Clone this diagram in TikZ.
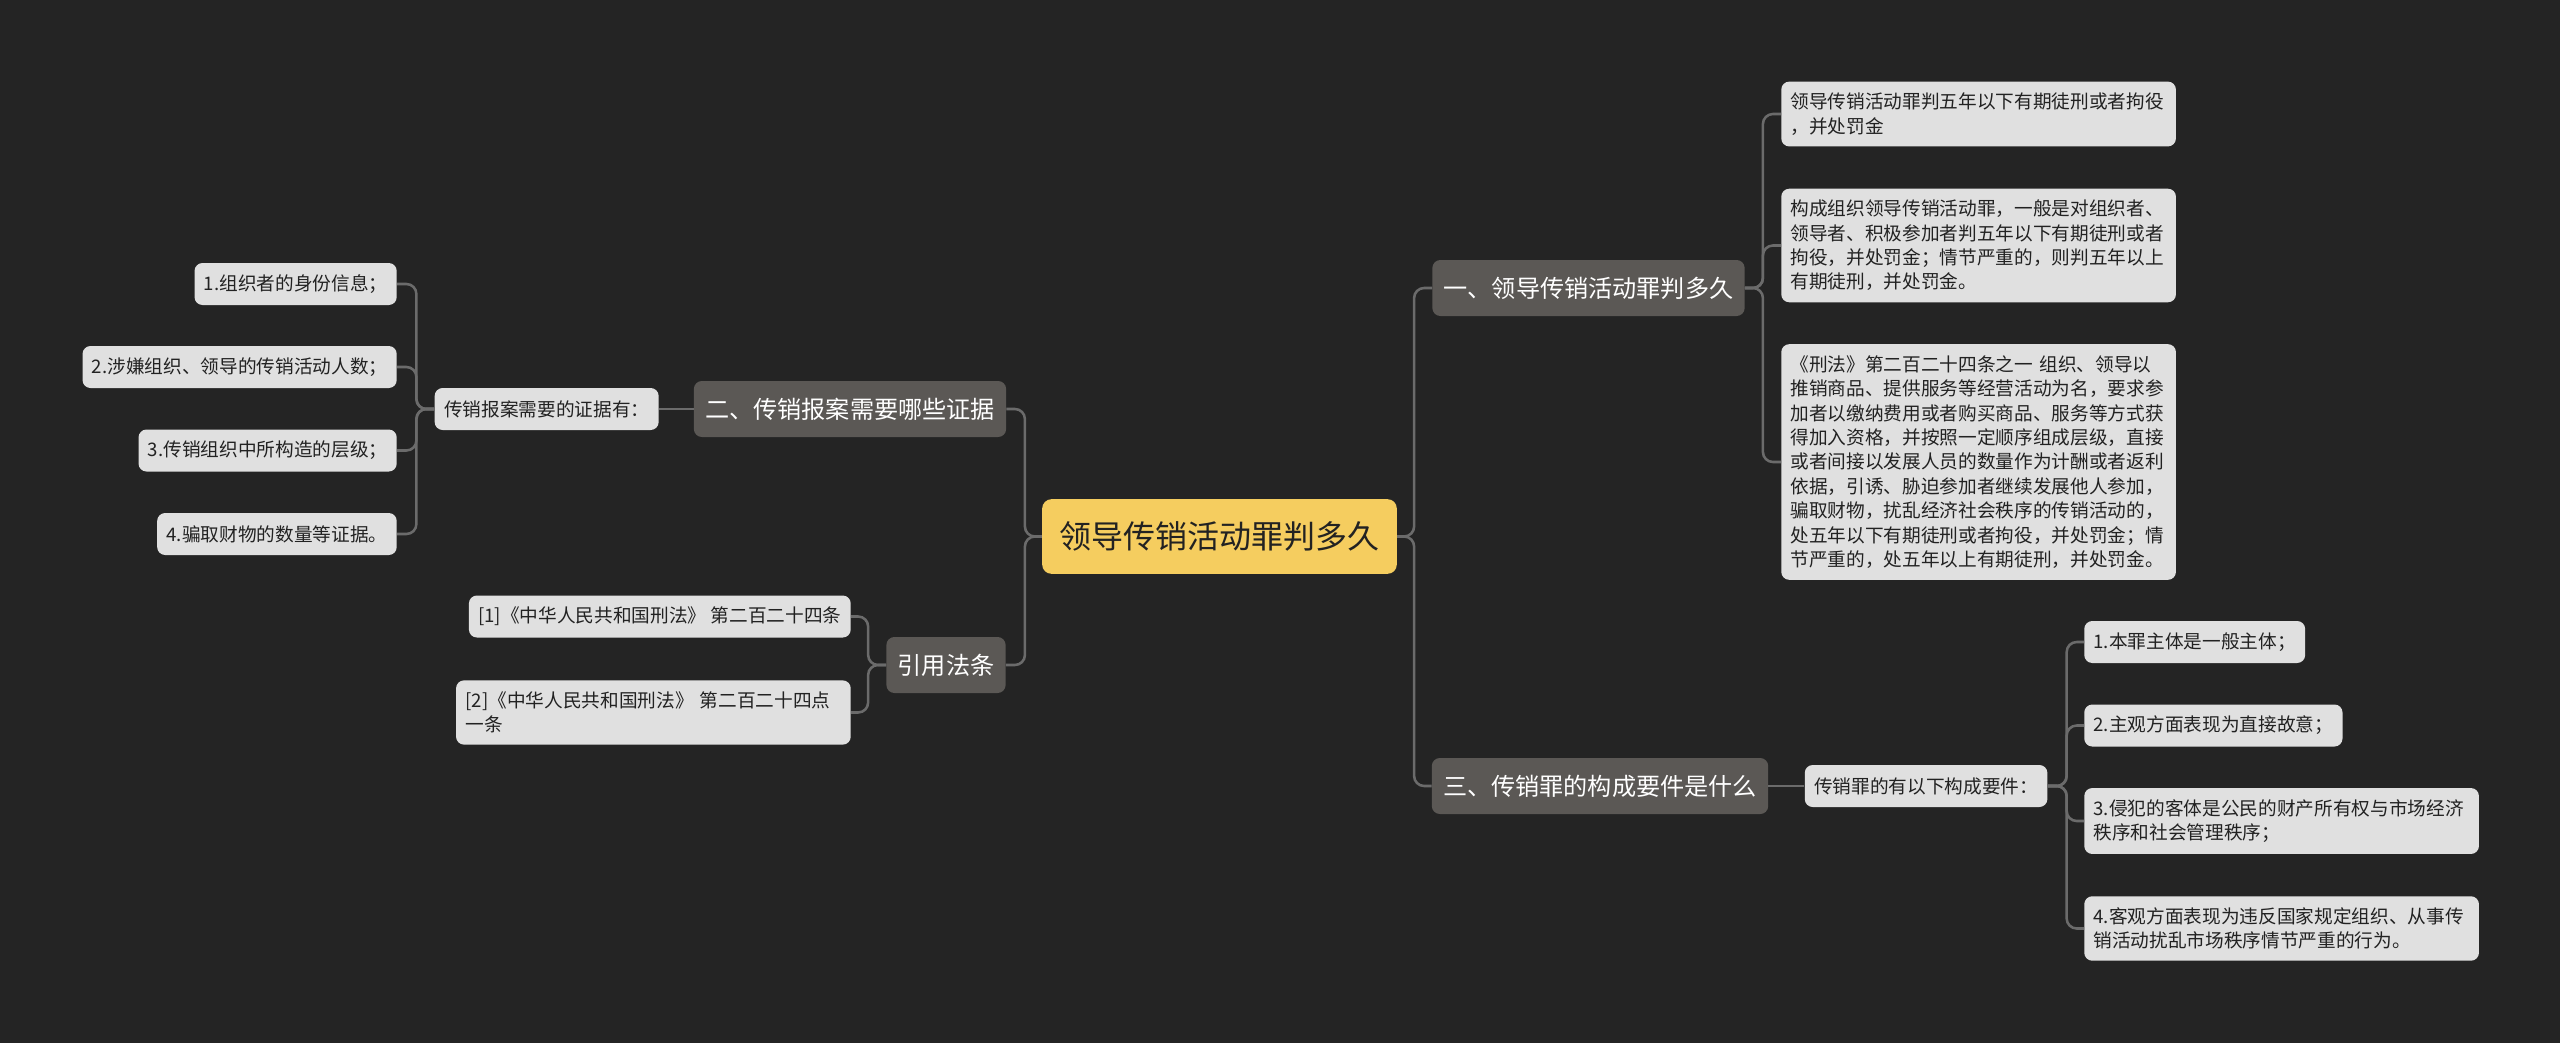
\documentclass[tikz,border=0pt]{standalone}
\usepackage{fontspec}
\setmainfont{Noto Sans CJK SC}
\usetikzlibrary{positioning}

\definecolor{bgdark}{HTML}{242424}
\definecolor{rootfill}{HTML}{F5CD5F}
\definecolor{topicfill}{HTML}{5B5855}
\definecolor{leaffill}{HTML}{E0E0E0}
\definecolor{linkgray}{HTML}{6B6B6B}
\definecolor{darktext}{HTML}{222222}

\begin{document}
\begin{tikzpicture}[x=0.75pt, y=-0.75pt]
        \tikzstyle{root} = [fill=rootfill, rounded corners=7pt, text=darktext, font=\fontsize{24}{28}\selectfont, inner xsep=13pt, minimum height=56pt]
        \tikzstyle{topic} = [fill=topicfill, rounded corners=6pt, text=white, font=\fontsize{18.1}{22}\selectfont, inner xsep=8.5pt, minimum height=42pt]
        \tikzstyle{leaf} = [fill=leaffill, rounded corners=6pt, text=darktext, font=\fontsize{14}{18.3}\selectfont, inner xsep=7pt, inner ysep=8.5pt, minimum height=31.5pt, align=left]
        \tikzstyle{longleaf} = [leaf, text width=282pt]
        \tikzstyle{link} = [draw=linkgray, line width=1.9pt, rounded corners=7.5pt]

        \fill[bgdark] (0,0) rectangle (2560,1043);
        \useasboundingbox (0,0) rectangle (2560,1043);

        % centre and main topics
        \node [root] (root) at (1219.5,536.5) {领导传销活动罪判多久};
        \node [topic] (t1) at (1588.5,288) {一、领导传销活动罪判多久};
        \node [topic] (t2) at (850,409) {二、传销报案需要哪些证据};
        \node [topic] (t3) at (1600,786) {三、传销罪的构成要件是什么};
        \node [topic] (t4) at (946,665) {引用法条};

        % topic one
        \node [longleaf, anchor=west] (a1) at (1781,114) {领导传销活动罪判五年以下有期徒刑或者拘役\\，并处罚金};
        \node [longleaf, anchor=west] (a2) at (1781,245.5) {构成组织领导传销活动罪，一般是对组织者、\\领导者、积极参加者判五年以下有期徒刑或者\\拘役，并处罚金；情节严重的，则判五年以上\\有期徒刑，并处罚金。};
        \node [longleaf, anchor=west] (a3) at (1781,462) {《刑法》第二百二十四条之一~组织、领导以\\推销商品、提供服务等经营活动为名，要求参\\加者以缴纳费用或者购买商品、服务等方式获\\得加入资格，并按照一定顺序组成层级，直接\\或者间接以发展人员的数量作为计酬或者返利\\依据，引诱、胁迫参加者继续发展他人参加，\\骗取财物，扰乱经济社会秩序的传销活动的，\\处五年以下有期徒刑或者拘役，并处罚金；情\\节严重的，处五年以上有期徒刑，并处罚金。};

        % topic two
        \node [leaf, left=26pt of t2] (ev) {传销报案需要的证据有：};
        \node [leaf, anchor=east] (ev1) at (397,284) {1.组织者的身份信息；};
        \node [leaf, anchor=east] (ev2) at (397,367) {2.涉嫌组织、领导的传销活动人数；};
        \node [leaf, anchor=east] (ev3) at (397,450.5) {3.传销组织中所构造的层级；};
        \node [leaf, anchor=east] (ev4) at (397,534) {4.骗取财物的数量等证据。};

        % topic three
        \node [leaf, right=27pt of t3] (el) {传销罪的有以下构成要件：};
        \node [leaf, anchor=west] (el1) at (2084,642) {1.本罪主体是一般主体；};
        \node [leaf, anchor=west] (el2) at (2084,725.5) {2.主观方面表现为直接故意；};
        \node [longleaf, anchor=west] (el3) at (2084,821) {3.侵犯的客体是公民的财产所有权与市场经济\\秩序和社会管理秩序；};
        \node [longleaf, anchor=west] (el4) at (2084,928.5) {4.客观方面表现为违反国家规定组织、从事传\\销活动扰乱市场秩序情节严重的行为。};

        % laws
        \node [leaf, anchor=east] (law1) at (851,616.5) {[1]《中华人民共和国刑法》~第二百二十四条};
        \node [longleaf, anchor=east] (law2) at (851,712.5) {[2]《中华人民共和国刑法》~第二百二十四点\\一条};

        % connectors
        \foreach \t in {t1,t3}
            \draw [link] (root.east) -- ++(17,0) |- (\t.west);
        \foreach \t in {t2,t4}
            \draw [link] (root.west) -- ++(-17,0) |- (\t.east);
        \foreach \n in {1,2,3}
            \draw [link] (t1.east) -- ++(18,0) |- (a\n.west);
        \draw [link] (t2) -- (ev);
        \foreach \n in {1,...,4}
            \draw [link] (ev.west) -- ++(-18,0) |- (ev\n.east);
        \draw [link] (t3) -- (el);
        \foreach \n in {1,...,4}
            \draw [link] (el.east) -- ++(19,0) |- (el\n.west);
        \foreach \n in {1,2}
            \draw [link] (t4.west) -- ++(-18,0) |- (law\n.east);
\end{tikzpicture}
\end{document}
